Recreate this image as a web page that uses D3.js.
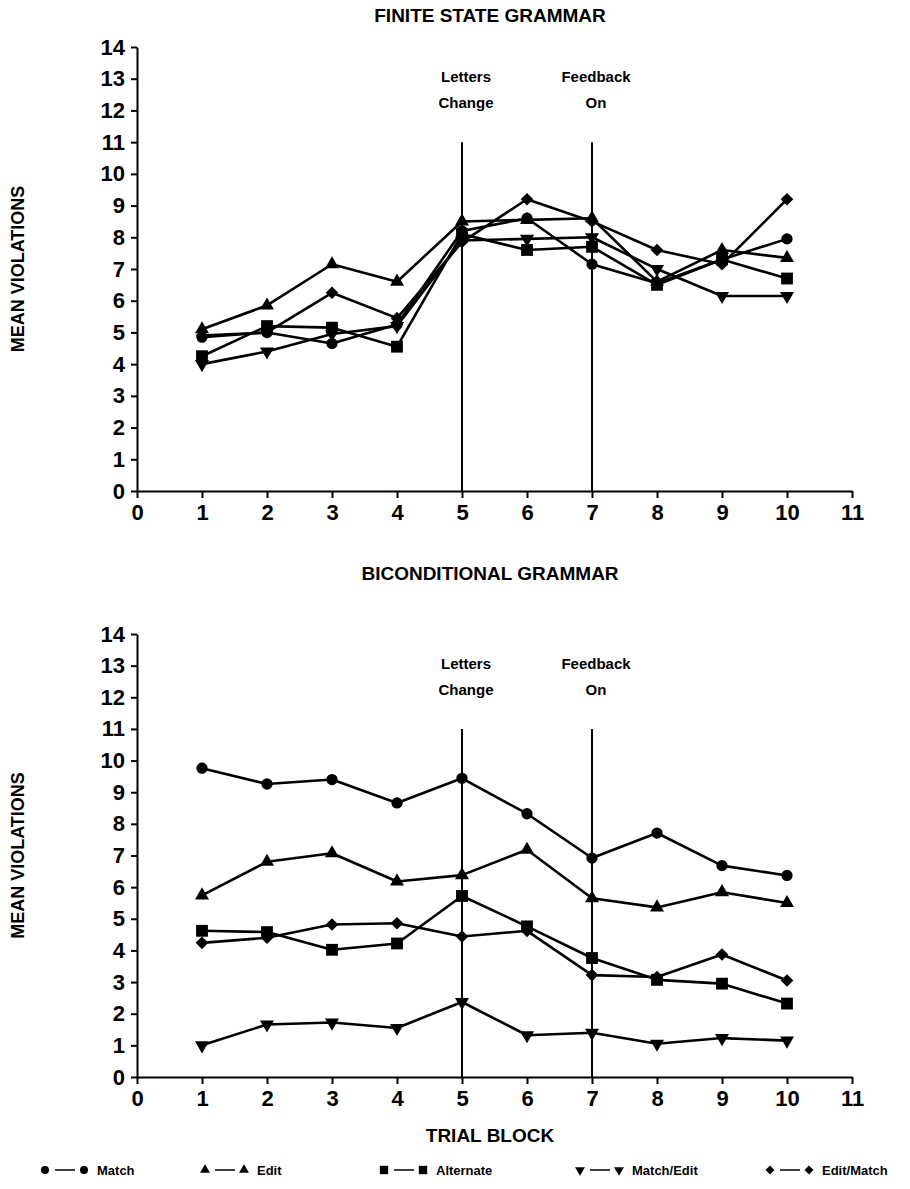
<!DOCTYPE html>
<html>
<head>
<meta charset="utf-8">
<script src="https://cdn.jsdelivr.net/npm/d3@7"></script>
<style>
  body { margin: 0; background: #fff; }
  svg text { font-family: "Liberation Sans", Arial, sans-serif; font-weight: bold; fill: #000; }
</style>
</head>
<body>
<svg id="chart" width="910" height="1189"></svg>
<script>
// trial blocks and tick values
var blocks = [1, 2, 3, 4, 5, 6, 7, 8, 9, 10];
var xTicks = [0, 1, 2, 3, 4, 5, 6, 7, 8, 9, 10, 11];
var yTicks = [0, 1, 2, 3, 4, 5, 6, 7, 8, 9, 10, 11, 12, 13, 14];
var seriesNames = ["Match", "Edit", "Alternate", "Match/Edit", "Edit/Match"];
var markers = ["circle", "triangle", "square", "down", "diamond"];
var eventBlocks = [5, 7];
var eventLabels = [["Letters", "Change"], ["Feedback", "On"]];

// Finite state grammar, mean violations per block
var fsgMatch     = [4.85, 5.0, 4.65, 5.25, 8.2, 8.6, 7.15, 6.55, 7.3, 7.95];
var fsgEdit      = [5.1, 5.85, 7.15, 6.6, 8.5, 8.55, 8.6, 6.6, 7.6, 7.35];
var fsgAlternate = [4.25, 5.2, 5.15, 4.55, 8.1, 7.6, 7.7, 6.5, 7.3, 6.7];
var fsgMatchEdit = [4.0, 4.4, 4.95, 5.2, 7.9, 7.95, 8.0, 7.0, 6.15, 6.15];
var fsgEditMatch = [4.9, 5.0, 6.25, 5.45, 7.85, 9.2, 8.5, 7.6, 7.15, 9.2];

// Biconditional grammar
var bcgMatch     = [9.76, 9.26, 9.4, 8.66, 9.44, 8.32, 6.92, 7.71, 6.68, 6.37];
var bcgEdit      = [5.74, 6.8, 7.07, 6.18, 6.38, 7.18, 5.65, 5.36, 5.84, 5.5];
var bcgAlternate = [4.62, 4.58, 4.02, 4.22, 5.72, 4.76, 3.76, 3.07, 2.95, 2.32];
var bcgMatchEdit = [1.0, 1.66, 1.72, 1.55, 2.37, 1.32, 1.4, 1.05, 1.23, 1.15];
var bcgEditMatch = [4.24, 4.4, 4.82, 4.86, 4.44, 4.62, 3.22, 3.16, 3.87, 3.05];

var svg = d3.select("#chart");

function symbolPath(kind, scale) {
  var s = scale || 1;
  if (kind === "circle") return d3.symbol().type(d3.symbolCircle).size(100 * s)();
  if (kind === "triangle" || kind === "down") return d3.symbol().type(d3.symbolTriangle).size(85 * s)();
  if (kind === "square") return d3.symbol().type(d3.symbolSquare).size(140 * s)();
  return d3.symbol().type(d3.symbolSquare).size(80 * s)();
}

// rotation needed for each marker kind
function turn(kind) {
  if (kind === "down") return " rotate(180)";
  if (kind === "diamond") return " rotate(45)";
  return "";
}

function drawPanel(title, titleY, top, bottom, data) {
  var x = d3.scaleLinear().domain([0, 11]).range([137, 852]);
  var y = d3.scaleLinear().domain([0, 14]).range([bottom, top]);
  var g = svg.append("g");

  g.append("text").attr("x", 490).attr("y", titleY)
    .attr("text-anchor", "middle").style("font-size", "19px").text(title);

  // y axis
  var yAxis = g.append("g").attr("transform", "translate(" + x(0) + ",0)")
    .call(d3.axisLeft(y).tickValues(yTicks).tickSize(6).tickSizeOuter(0).tickPadding(6));
  yAxis.selectAll("text").style("font-size", "22px").attr("font-family", null);

  // x axis
  var xAxis = g.append("g").attr("transform", "translate(0," + y(0) + ")")
    .call(d3.axisBottom(x).tickValues(xTicks).tickSize(7).tickSizeOuter(0).tickPadding(6));
  xAxis.selectAll("text").style("font-size", "22px").attr("font-family", null);
  g.selectAll(".domain, .tick line").attr("stroke", "#000").attr("stroke-width", 2);

  g.append("text")
    .attr("transform", "translate(24," + y(7) + ") rotate(-90)")
    .attr("text-anchor", "middle").style("font-size", "18px").text("MEAN VIOLATIONS");

  // event lines and labels
  eventBlocks.forEach(function (b, i) {
    g.append("line").attr("x1", x(b)).attr("x2", x(b))
      .attr("y1", y(11)).attr("y2", y(0))
      .attr("stroke", "#000").attr("stroke-width", 2);
    eventLabels[i].forEach(function (t, j) {
      g.append("text").attr("x", x(b) + 4).attr("y", y(12.9) + j * 26)
        .attr("text-anchor", "middle").style("font-size", "15px").text(t);
    });
  });

  var line = d3.line().x(function (d, i) { return x(blocks[i]); }).y(function (d) { return y(d); });

  data.forEach(function (vals, k) {
    g.append("path").datum(vals).attr("d", line)
      .attr("fill", "none").attr("stroke", "#000").attr("stroke-width", 2.6)
      .attr("stroke-linejoin", "round");
    g.selectAll(null).data(vals).enter().append("path")
      .attr("d", symbolPath(markers[k]))
      .attr("transform", function (d, i) {
        return "translate(" + x(blocks[i]) + "," + y(d) + ")" + turn(markers[k]);
      })
      .attr("fill", "#000");
  });
}

drawPanel("FINITE STATE GRAMMAR", 22, 47, 491,
  [fsgMatch, fsgEdit, fsgAlternate, fsgMatchEdit, fsgEditMatch]);
drawPanel("BICONDITIONAL GRAMMAR", 580, 634, 1077,
  [bcgMatch, bcgEdit, bcgAlternate, bcgMatchEdit, bcgEditMatch]);

svg.append("text").attr("x", 490).attr("y", 1142)
  .attr("text-anchor", "middle").style("font-size", "19px").text("TRIAL BLOCK");

// legend
var legendX = [45, 205, 384, 580, 770];
seriesNames.forEach(function (name, k) {
  var lg = svg.append("g").attr("transform", "translate(" + legendX[k] + ",1170)");
  [0, 39].forEach(function (dx) {
    lg.append("path").attr("d", symbolPath(markers[k], 0.5))
      .attr("transform", "translate(" + dx + ",0)" + turn(markers[k]))
      .attr("fill", "#000");
  });
  lg.append("line").attr("x1", 10).attr("x2", 30).attr("y1", 0).attr("y2", 0)
    .attr("stroke", "#000").attr("stroke-width", 1.5);
  lg.append("text").attr("x", 52).attr("y", 4.5).style("font-size", "13px").text(name);
});
</script>
</body>
</html>
